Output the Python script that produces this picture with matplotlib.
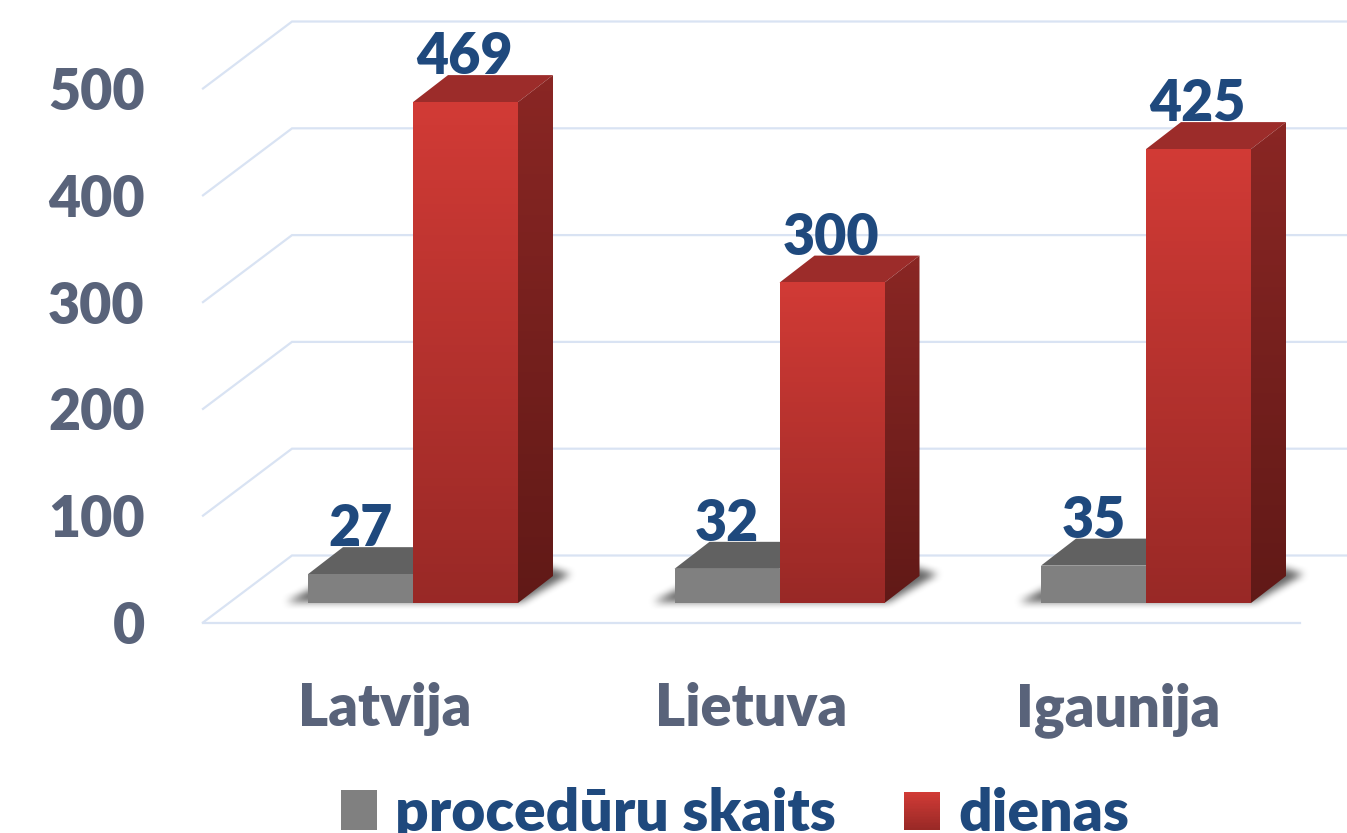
import numpy as np
import matplotlib
matplotlib.use("Agg")
import matplotlib.pyplot as plt
from matplotlib.patches import Polygon, Rectangle
from matplotlib.path import Path
from matplotlib.legend_handler import HandlerBase

plt.rcParams['font.family'] = ['Lato', 'DejaVu Sans']
plt.rcParams['font.weight'] = 'heavy'

# Data
countries = ['Latvija', 'Lietuva', 'Igaunija']
procedures = [27, 32, 35]
days = [469, 300, 425]
y_ticks = [0, 100, 200, 300, 400, 500]
legend_labels = ['procedūru skaits', 'dienas']

# Picture scale: pixels per category and per value
W, H = 1347, 833
PX_X = 366.5
PX_Y = 1.068
FIRST_X = 413          # pixel of the first group centre
FLOOR_Y = 603          # pixel of value 0 at the bar fronts
LEFT, AXIS_Y = 203, 622.5

BAR_W = 105 / PX_X
DEPTH_X, DEPTH_Y = 35 / PX_X, 27 / PX_Y
WALL_X, WALL_Y = 89 / PX_X, 67 / PX_Y
FRONT_DROP = (AXIS_Y - FLOOR_Y) / PX_Y

GRID = '#D9E3F3'
TICK = '#59637A'
LABEL = '#1F497D'
RED_TOP, RED_BOT = (0.82, 0.23, 0.21), (0.60, 0.16, 0.15)
SIDE_TOP, SIDE_BOT = (0.54, 0.15, 0.14), (0.38, 0.10, 0.09)
RED_CAP = '#9C2C2A'
GRAY_FRONT, GRAY_CAP = '#808080', '#616161'

fig = plt.figure(figsize=(W / 100, H / 100), dpi=100)
ax = fig.add_axes([LEFT / W, 1 - AXIS_Y / H, 1 - LEFT / W, AXIS_Y / H])
x_min, x_max = (LEFT - FIRST_X) / PX_X, (W - FIRST_X) / PX_X
y_min, y_max = -FRONT_DROP, FLOOR_Y / PX_Y
ax.set_xlim(x_min, x_max)
ax.set_ylim(y_min, y_max)


def gradient(c1, c2, n=64):
    t = np.linspace(0, 1, n)[:, None, None]
    return np.array(c1)[None, None, :] * (1 - t) + np.array(c2)[None, None, :] * t


def draw_bar(x0, value, front, side, cap, shaded=True):
    x1 = x0 + BAR_W
    top_poly = Polygon([(x0, value), (x1, value), (x1 + DEPTH_X, value + DEPTH_Y),
                        (x0 + DEPTH_X, value + DEPTH_Y)], fc=cap, ec='none', zorder=4)
    ax.add_patch(top_poly)
    side_pts = [(x1, 0), (x1 + DEPTH_X, DEPTH_Y), (x1 + DEPTH_X, value + DEPTH_Y), (x1, value)]
    if shaded:
        im = ax.imshow(gradient(side[0], side[1]), extent=[x1, x1 + DEPTH_X, 0, value + DEPTH_Y],
                       aspect='auto', zorder=4, origin='upper')
        im.set_clip_path(Polygon(side_pts, transform=ax.transData))
        ax.imshow(gradient(front[0], front[1]), extent=[x0, x1, 0, value],
                  aspect='auto', zorder=5, origin='upper')
    else:
        ax.add_patch(Rectangle((x0, 0), BAR_W, value, fc=front, ec='none', zorder=5))


def soft_shadow():
    # floor shadow as a blurred polygon, in pixels around the group centre
    xs = np.arange(-150, 190)
    ys = np.arange(-12, 60)
    gx, gy = np.meshgrid(xs, ys)
    shape = Path([(-128, 0), (108, 0), (158, 29), (110, 44), (-100, 15)])
    mask = shape.contains_points(np.c_[gx.ravel(), gy.ravel()]).reshape(gx.shape).astype(float)
    box = np.ones(9) / 9
    for _ in range(2):
        mask = np.apply_along_axis(lambda r: np.convolve(r, box, mode='same'), 1, mask)
        mask = np.apply_along_axis(lambda r: np.convolve(r, box, mode='same'), 0, mask)
    rgba = np.zeros(mask.shape + (4,))
    rgba[..., 3] = mask * 0.6
    return rgba, xs, ys


shadow, shadow_x, shadow_y = soft_shadow()

# Walls and floor
for v in y_ticks:
    ax.plot([x_min, x_min + WALL_X, x_max], [v - FRONT_DROP, v - FRONT_DROP + WALL_Y, v - FRONT_DROP + WALL_Y],
            color=GRID, lw=1.6, zorder=1, clip_on=False, solid_joinstyle='miter')
ax.plot([x_min, (1300 - FIRST_X) / PX_X], [-FRONT_DROP, -FRONT_DROP], color=GRID, lw=1.6, zorder=1, clip_on=False)

# Bars
for i in range(len(countries)):
    ax.imshow(shadow, origin='lower', aspect='auto', zorder=3,
              extent=[i + shadow_x[0] / PX_X, i + shadow_x[-1] / PX_X, shadow_y[0] / PX_Y, shadow_y[-1] / PX_Y])
    draw_bar(i - BAR_W, procedures[i], GRAY_FRONT, None, GRAY_CAP, shaded=False)
    draw_bar(i, days[i], (RED_TOP, RED_BOT), (SIDE_TOP, SIDE_BOT), RED_CAP)
    ax.text(i - BAR_W / 2, procedures[i] + DEPTH_Y + 1, str(procedures[i]), ha='center', va='baseline',
            color=LABEL, fontsize=40, zorder=6)
    ax.text(i + BAR_W / 2 - 1 / PX_X, days[i] + DEPTH_Y + 1, str(days[i]), ha='center', va='baseline',
            color=LABEL, fontsize=40, zorder=6)

ax.set_xlim(x_min, x_max)
ax.set_ylim(y_min, y_max)

# Axis labels
ax.set_xticks([i - 28 / PX_X for i in range(len(countries))])
ax.set_xticklabels(countries, color=TICK, fontsize=41.5)
ax.set_yticks([v - FRONT_DROP for v in y_ticks])
ax.set_yticklabels([str(v) for v in y_ticks], color=TICK, fontsize=40, va='center_baseline')
ax.tick_params(axis='x', length=0, pad=43)
ax.tick_params(axis='y', length=0, pad=42)
for s in ax.spines.values():
    s.set_visible(False)


class GradientHandler(HandlerBase):
    def create_artists(self, legend, orig_handle, xd, yd, width, height, fontsize, trans):
        colors = orig_handle.colors
        strips = []
        n = len(colors)
        for k, c in enumerate(colors):
            strips.append(Rectangle((-xd, -yd + height * (n - k - 1) / n), width, height / n * 1.05,
                                    fc=c, ec='none', transform=trans))
        return strips


class GradientKey:
    def __init__(self, colors):
        self.colors = colors


gray_key = GradientKey(['#808080'])
red_key = GradientKey([tuple(c) for c in gradient(RED_TOP, RED_BOT, 24)[:, 0, :]])
fig.legend([gray_key, red_key], legend_labels, ncol=2, frameon=False, loc='lower center',
           bbox_to_anchor=(735 / W, -0.009), fontsize=42.2, labelcolor=LABEL,
           handlelength=0.62, handleheight=0.62, handletextpad=0.31, columnspacing=1.15,
           borderpad=0, borderaxespad=0,
           handler_map={GradientKey: GradientHandler()})

fig.savefig('out.png', dpi=100, facecolor='white')
